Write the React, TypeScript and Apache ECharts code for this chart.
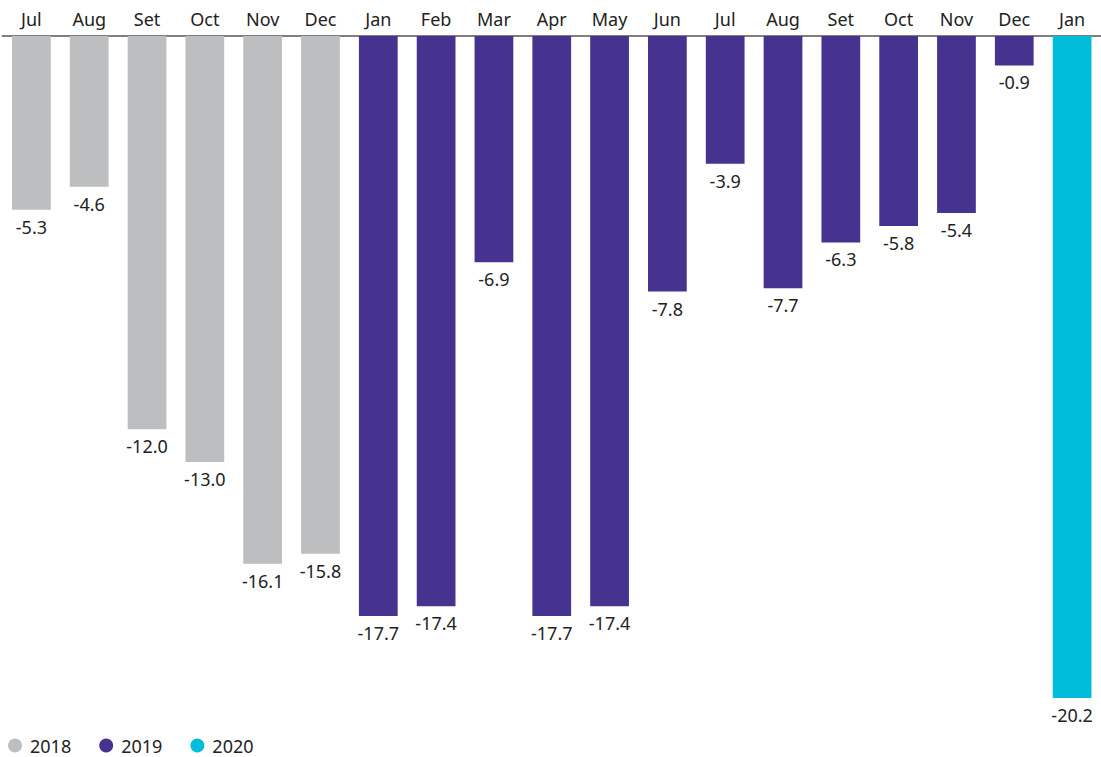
import React, { useEffect, useRef } from "react";
import * as echarts from "echarts";

const categories = ["Jul", "Aug", "Set", "Oct", "Nov", "Dec", "Jan", "Feb", "Mar", "Apr", "May", "Jun", "Jul", "Aug", "Set", "Oct", "Nov", "Dec", "Jan"];
const values2018 = [-5.3, -4.6, -12.0, -13.0, -16.1, -15.8];
const values2019 = [-17.7, -17.4, -6.9, -17.7, -17.4, -7.8, -3.9, -7.7, -6.3, -5.8, -5.4, -0.9];
const values2020 = [-20.2];
const seriesNames = ["2018", "2019", "2020"];
const colors = ["#BDBEC0", "#46328F", "#00BEDB"];

const FONT = "'Noto Sans', 'Open Sans', sans-serif";

export default function App() {
  const ref = useRef<HTMLDivElement>(null);
  useEffect(() => {
    if (!ref.current) return;
    const chart = echarts.init(ref.current, null, { renderer: "svg" });
    const n = categories.length;
    const pad = (arr: number[], start: number) => {
      const out: (number | null)[] = new Array(n).fill(null);
      arr.forEach((v, i) => (out[start + i] = v));
      return out;
    };
    const data = [
      pad(values2018, 0),
      pad(values2019, values2018.length),
      pad(values2020, values2018.length + values2019.length),
    ];
    chart.setOption({
      animation: false,
      textStyle: { fontFamily: FONT },
      grid: { left: 2.5, width: 1100.5, top: 36, height: 662, containLabel: false },
      legend: {
        left: 8,
        top: 736,
        icon: "circle",
        itemWidth: 14,
        itemHeight: 14,
        itemGap: 28,
        padding: 0,
        textStyle: { fontSize: 18, lineHeight: 19, color: "#222", fontFamily: FONT, padding: [0, 0, 0, 3] },
        data: seriesNames,
      },
      xAxis: {
        type: "category",
        position: "top",
        data: categories,
        axisLine: { lineStyle: { color: "#7f7f7f", width: 2 } },
        axisTick: { show: false },
        axisLabel: { color: "#222", fontSize: 18, margin: 8, interval: 0, fontFamily: FONT },
      },
      yAxis: {
        type: "value",
        min: -20.2,
        max: 0,
        show: false,
        splitLine: { show: false },
      },
      series: seriesNames.map((name, i) => ({
        name,
        type: "bar",
        stack: "all",
        data: data[i],
        barWidth: "67%",
        itemStyle: { color: colors[i] },
        label: {
          show: true,
          position: "bottom",
          distance: 8,
          color: "#222",
          fontSize: 18,
          fontFamily: FONT,
          formatter: (p: any) => (p.value == null ? "" : Number(p.value).toFixed(1)),
        },
      })),
    });
    return () => chart.dispose();
  }, []);
  return <div ref={ref} style={{ position: "absolute", left: 0, top: 0, width: 1101, height: 757 }} />;
}
